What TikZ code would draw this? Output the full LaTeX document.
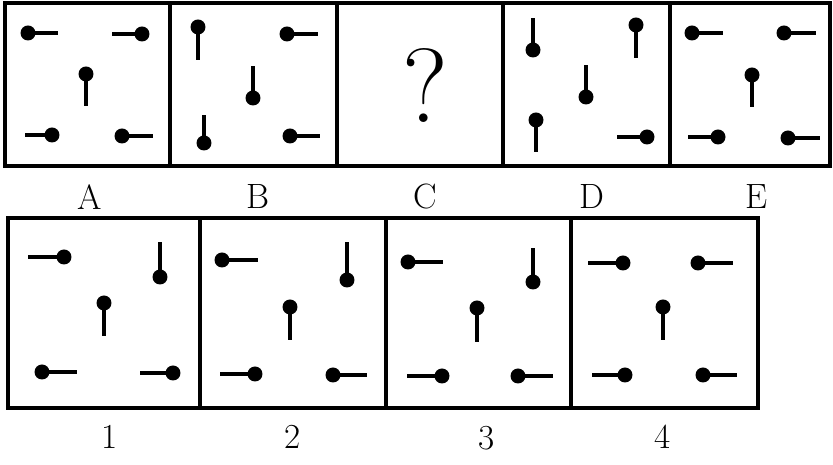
\documentclass[tikz,border=0pt]{standalone}
\usepackage{fontspec}
\usepackage{tikz}

% a pin: round head at (#2,#3), stem going by (#4,#5)
\newcommand{\pin}[5]{%
  \node[head] (#1) at (#2,#3) {};
  \draw[stem] (#1.center) -- ++(#4,#5);
}

\begin{document}
\begin{tikzpicture}[x=0.02cm,y=-0.02cm,
  head/.style={circle,fill=black,inner sep=0pt,minimum size=0.3cm},
  stem/.style={line width=2.3pt},
  frame/.style={line width=2.2pt},
  lbl/.style={font=\fontsize{20}{20}\selectfont}]
\useasboundingbox (0,0) rectangle (833,465);

% top row of frames
\draw[frame] (5,3) rectangle (830,166);
\foreach \x in {170,337,503,670}
  \draw[frame] (\x,3) -- (\x,166);

% bottom row of frames
\draw[frame] (8,218) rectangle (758,408);
\foreach \x in {200,386,571}
  \draw[frame] (\x,218) -- (\x,408);

% A
\pin{a1}{28}{33}{30}{0}
\pin{a2}{142}{34}{-30}{0}
\pin{a3}{86}{74}{0}{32}
\pin{a4}{52}{135}{-27}{0}
\pin{a5}{122}{136}{31}{0}

% B
\pin{b1}{198}{27}{0}{33}
\pin{b2}{287}{34}{31}{0}
\pin{b3}{253}{98}{0}{-32}
\pin{b4}{204}{143}{0}{-28}
\pin{b5}{290}{136}{30}{0}

% C
\node[font=\fontsize{60}{60}\selectfont] (qm) at (425,86) {?};

% D
\pin{d1}{533}{50}{0}{-32}
\pin{d2}{636}{25}{0}{33}
\pin{d3}{586}{97}{0}{-32}
\pin{d4}{536}{120}{0}{32}
\pin{d5}{647}{137}{-30}{0}

% E
\pin{e1}{692}{33}{31}{0}
\pin{e2}{784}{33}{32}{0}
\pin{e3}{752}{75}{0}{32}
\pin{e4}{718}{137}{-30}{0}
\pin{e5}{788}{138}{32}{0}

% 1
\pin{p1}{64}{257}{-36}{0}
\pin{p2}{160}{277}{0}{-35}
\pin{p3}{104}{303}{0}{33}
\pin{p4}{42}{372}{35}{0}
\pin{p5}{173}{373}{-33}{0}

% 2
\pin{q1}{222}{260}{36}{0}
\pin{q2}{347}{280}{0}{-38}
\pin{q3}{290}{307}{0}{33}
\pin{q4}{255}{374}{-35}{0}
\pin{q5}{333}{375}{34}{0}

% 3
\pin{r1}{408}{262}{35}{0}
\pin{r2}{533}{282}{0}{-34}
\pin{r3}{477}{308}{0}{34}
\pin{r4}{442}{376}{-35}{0}
\pin{r5}{518}{376}{35}{0}

% 4
\pin{s1}{623}{263}{-35}{0}
\pin{s2}{698}{263}{35}{0}
\pin{s3}{663}{307}{0}{33}
\pin{s4}{625}{375}{-33}{0}
\pin{s5}{703}{375}{34}{0}

% labels
\node[lbl] (labA) at (90,197) {A};
\node[lbl] (labB) at (258,197) {B};
\node[lbl] (labC) at (425,197) {C};
\node[lbl] (labD) at (592,197) {D};
\node[lbl] (labE) at (757,197) {E};
\node[lbl] (lab1) at (110,437) {1};
\node[lbl] (lab2) at (293,437) {2};
\node[lbl] (lab3) at (487,438) {3};
\node[lbl] (lab4) at (663,437) {4};
\end{tikzpicture}
\end{document}
